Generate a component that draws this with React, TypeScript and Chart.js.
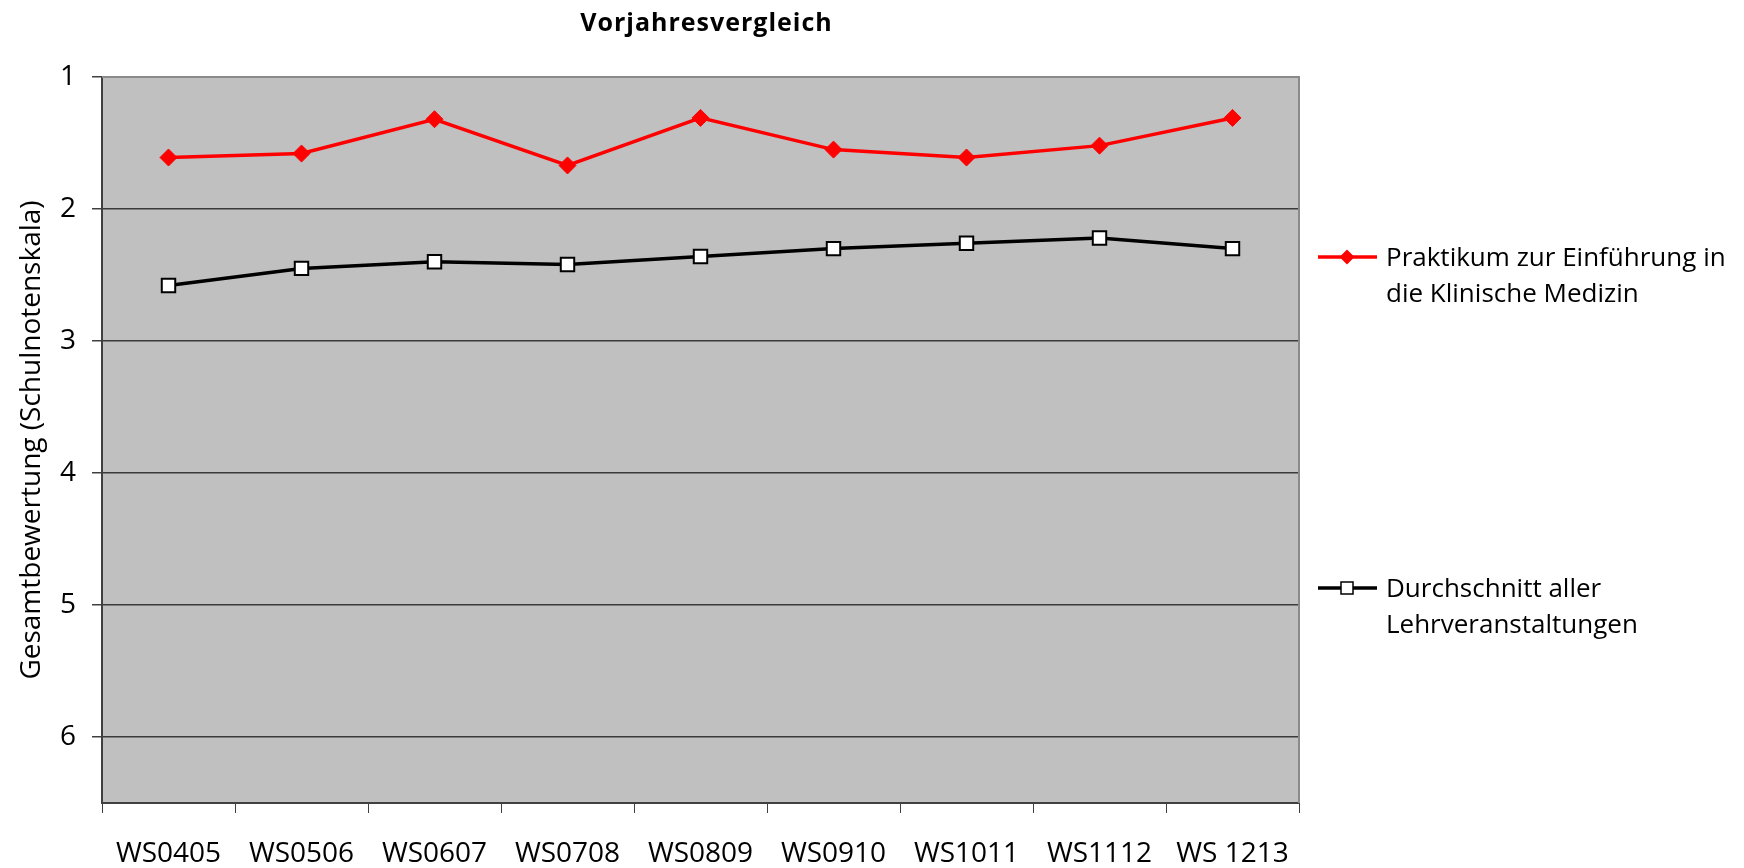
import React, { useEffect, useRef } from 'react';
import { Chart, registerables } from 'chart.js';

Chart.register(...registerables);

const categories = ['WS0405', 'WS0506', 'WS0607', 'WS0708', 'WS0809', 'WS0910', 'WS1011', 'WS1112', 'WS 1213'];
const praktikumValues = [1.61, 1.58, 1.32, 1.67, 1.31, 1.55, 1.61, 1.52, 1.31];
const durchschnittValues = [2.58, 2.45, 2.40, 2.42, 2.36, 2.30, 2.26, 2.22, 2.30];
const yTickValues = [1, 2, 3, 4, 5, 6];
const chartTitle = 'Vorjahresvergleich';
const yAxisTitle = 'Gesamtbewertung (Schulnotenskala)';
const praktikumLegend = ['Praktikum zur Einführung in', 'die Klinische Medizin'];
const durchschnittLegend = ['Durchschnitt aller', 'Lehrveranstaltungen'];

const FONT = "'Open Sans', sans-serif";
const W = 1744;
const H = 868;

const decorPlugin = {
  id: 'decor',
  beforeDraw(chart: any) {
    const { ctx, chartArea: a } = chart;
    ctx.save();
    ctx.fillStyle = '#c0c0c0';
    ctx.fillRect(a.left, a.top, a.right - a.left, a.bottom - a.top);
    ctx.restore();
  },
  beforeDatasetsDraw(chart: any) {
    const { ctx, chartArea: a } = chart;
    ctx.save();
    ctx.strokeStyle = '#8a8a8a';
    ctx.lineWidth = 2;
    ctx.beginPath();
    ctx.moveTo(a.left, a.top);
    ctx.lineTo(a.right, a.top);
    ctx.lineTo(a.right, a.bottom);
    ctx.stroke();
    ctx.restore();
  },
  afterDraw(chart: any) {
    const { ctx, chartArea: a } = chart;
    ctx.save();
    // title
    ctx.fillStyle = '#000';
    ctx.font = `bold 25px ${FONT}`;
    try { (ctx as any).letterSpacing = '1px'; } catch (e) {}
    ctx.textAlign = 'center';
    ctx.textBaseline = 'middle';
    ctx.fillText(chartTitle, (a.left + a.right) / 2 + 6, 24);
    try { (ctx as any).letterSpacing = '0px'; } catch (e) {}

    // legend
    const offsets = [180, 511];
    chart.data.datasets.forEach((ds: any, i: number) => {
      const y = a.top + offsets[i];
      const x0 = a.right + 19;
      const x1 = a.right + 78;
      const mx = a.right + 48;
      ctx.strokeStyle = ds.borderColor;
      ctx.lineWidth = 3.5;
      ctx.beginPath();
      ctx.moveTo(x0, y);
      ctx.lineTo(x1, y);
      ctx.stroke();
      if (ds.pointStyle === 'rectRot') {
        const r = 7.5;
        ctx.fillStyle = ds.pointBackgroundColor;
        ctx.beginPath();
        ctx.moveTo(mx - r, y);
        ctx.lineTo(mx, y - r);
        ctx.lineTo(mx + r, y);
        ctx.lineTo(mx, y + r);
        ctx.closePath();
        ctx.fill();
      } else {
        const s = 6;
        ctx.fillStyle = ds.pointBackgroundColor;
        ctx.fillRect(mx - s, y - s, 2 * s, 2 * s);
        ctx.strokeStyle = ds.pointBorderColor;
        ctx.lineWidth = 1.5;
        ctx.strokeRect(mx - s, y - s, 2 * s, 2 * s);
      }
      ctx.fillStyle = '#000';
      ctx.font = `26px ${FONT}`;
      ctx.textAlign = 'left';
      ctx.textBaseline = 'middle';
      (ds.legendLines as string[]).forEach((line, j) => {
        ctx.fillText(line, a.right + 87, y + 2 + j * 36);
      });
    });
    ctx.restore();
  },
};

export default function App() {
  const ref = useRef<HTMLCanvasElement | null>(null);

  useEffect(() => {
    if (!ref.current) return;
    const chart = new Chart(ref.current, {
      type: 'line',
      data: {
        labels: categories,
        datasets: [
          {
            label: praktikumLegend.join(' '),
            legendLines: praktikumLegend,
            data: praktikumValues,
            borderColor: '#ff0000',
            backgroundColor: '#ff0000',
            borderWidth: 3.5,
            tension: 0,
            pointStyle: 'rectRot',
            pointRadius: 8.5,
            pointBorderWidth: 1,
            pointBackgroundColor: '#ff0000',
            pointBorderColor: '#ff0000',
          } as any,
          {
            label: durchschnittLegend.join(' '),
            legendLines: durchschnittLegend,
            data: durchschnittValues,
            borderColor: '#000000',
            backgroundColor: '#ffffff',
            borderWidth: 3.5,
            tension: 0,
            pointStyle: 'rect',
            pointRadius: 9.5,
            pointBorderWidth: 2,
            pointBackgroundColor: '#ffffff',
            pointBorderColor: '#000000',
          } as any,
        ],
      },
      options: {
        responsive: false,
        animation: false,
        layout: { padding: { top: 77, right: 445, left: 0, bottom: 0 } },
        plugins: {
          legend: { display: false },
          title: { display: false },
          tooltip: { enabled: false },
        },
        scales: {
          x: {
            type: 'category',
            offset: true,
            afterFit: (s: any) => { s.height = 65; },
            grid: {
              offset: true,
              drawOnChartArea: false,
              drawTicks: true,
              tickLength: 10,
              color: '#404040',
              tickColor: '#404040',
            },
            border: { display: true, color: '#404040', width: 2 },
            ticks: {
              color: '#000',
              font: { family: FONT, size: 28 },
              padding: 24,
              autoSkip: false,
              maxRotation: 0,
            },
          },
          y: {
            type: 'linear',
            reverse: true,
            min: 1,
            max: 6.5,
            afterFit: (s: any) => { s.width = 102; },
            afterBuildTicks: (s: any) => { s.ticks = yTickValues.map((v) => ({ value: v })); },
            grid: {
              drawOnChartArea: true,
              drawTicks: true,
              tickLength: 10,
              lineWidth: 1.5,
              color: (c: any) => (c.tick && c.tick.value === 1 ? '#8a8a8a' : '#3a3a3a'),
              tickColor: '#404040',
            },
            border: { display: true, color: '#404040', width: 2 },
            ticks: {
              color: '#000',
              font: { family: FONT, size: 28 },
              padding: 16,
            },
            title: {
              display: true,
              text: yAxisTitle,
              color: '#000',
              font: { family: FONT, size: 28 },
              padding: { top: 15, bottom: 0 },
            },
          },
        },
      },
      plugins: [decorPlugin],
    });
    return () => chart.destroy();
  }, []);

  return (
    <div style={{ position: 'fixed', left: 0, top: 0, width: W, height: H, background: '#fff' }}>
      <canvas ref={ref} width={W} height={H} style={{ display: 'block', width: W, height: H }} />
    </div>
  );
}
